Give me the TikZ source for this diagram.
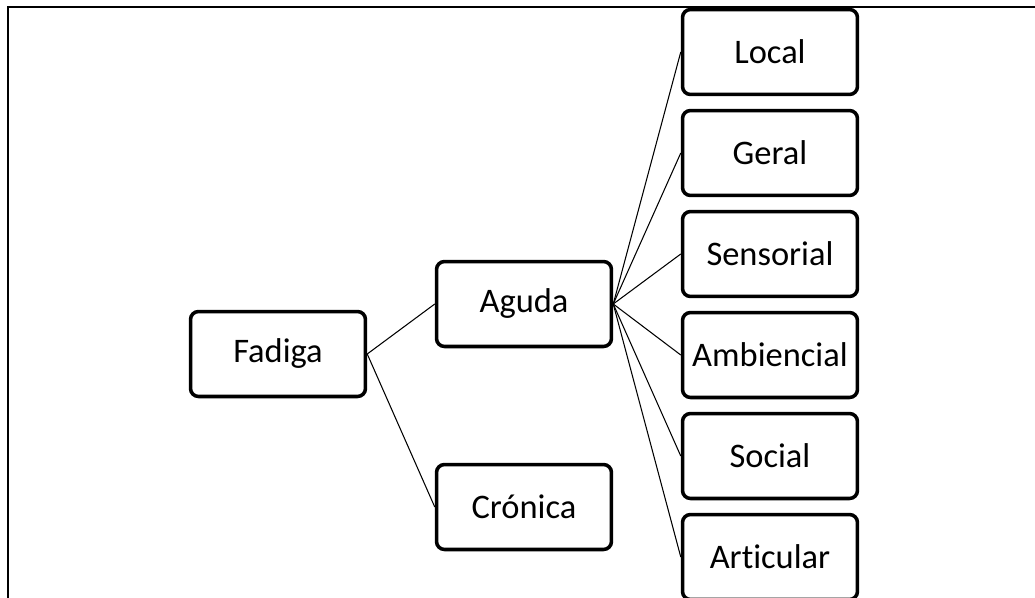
\documentclass[tikz,border=0pt]{standalone}
\usepackage{fontspec}
\setmainfont{Carlito}[Ligatures={NoCommon}]
\begin{document}
\begin{tikzpicture}[x=0.02cm, y=-0.02cm,
    box/.style={draw, line width=2pt, rounded corners=0.16cm,
      minimum width=3.5cm, minimum height=1.7cm,
      font=\fontsize{19.6}{23}\selectfont},
    link/.style={line width=0.6pt}]
    \useasboundingbox (0, 0) rectangle (1035, 598);
    \draw [line width=1.5pt] (1035, 7) -- (8, 7) -- (8, 598);

    \node [box] (fadiga) at (278, 354) {Fadiga};
    \node [box] (aguda) at (524, 304) {Aguda};
    \node [box] (cronica) at (524, 507) {Crónica};

    \pgfmathsetmacro{\xc}{770};
    \node [box] (local) at (\xc, 52) {Local};
    \node [box] (geral) at (\xc, 153) {Geral};
    \node [box] (sensorial) at (\xc, 254) {Sensorial};
    \node [box] (ambiencial) at (\xc, 355) {Ambiencial};
    \node [box] (social) at (\xc, 456) {Social};
    \node [box] (articular) at (\xc, 557) {Articular};

    \draw [link] (fadiga.east) -- (aguda.west);
    \draw [link] (fadiga.east) -- (cronica.west);

    \draw [link] (aguda.east) -- (local.west);
    \draw [link] (aguda.east) -- (geral.west);
    \draw [link] (aguda.east) -- (sensorial.west);
    \draw [link] (aguda.east) -- (ambiencial.west);
    \draw [link] (aguda.east) -- (social.west);
    \draw [link] (aguda.east) -- (articular.west);
\end{tikzpicture}
\end{document}
